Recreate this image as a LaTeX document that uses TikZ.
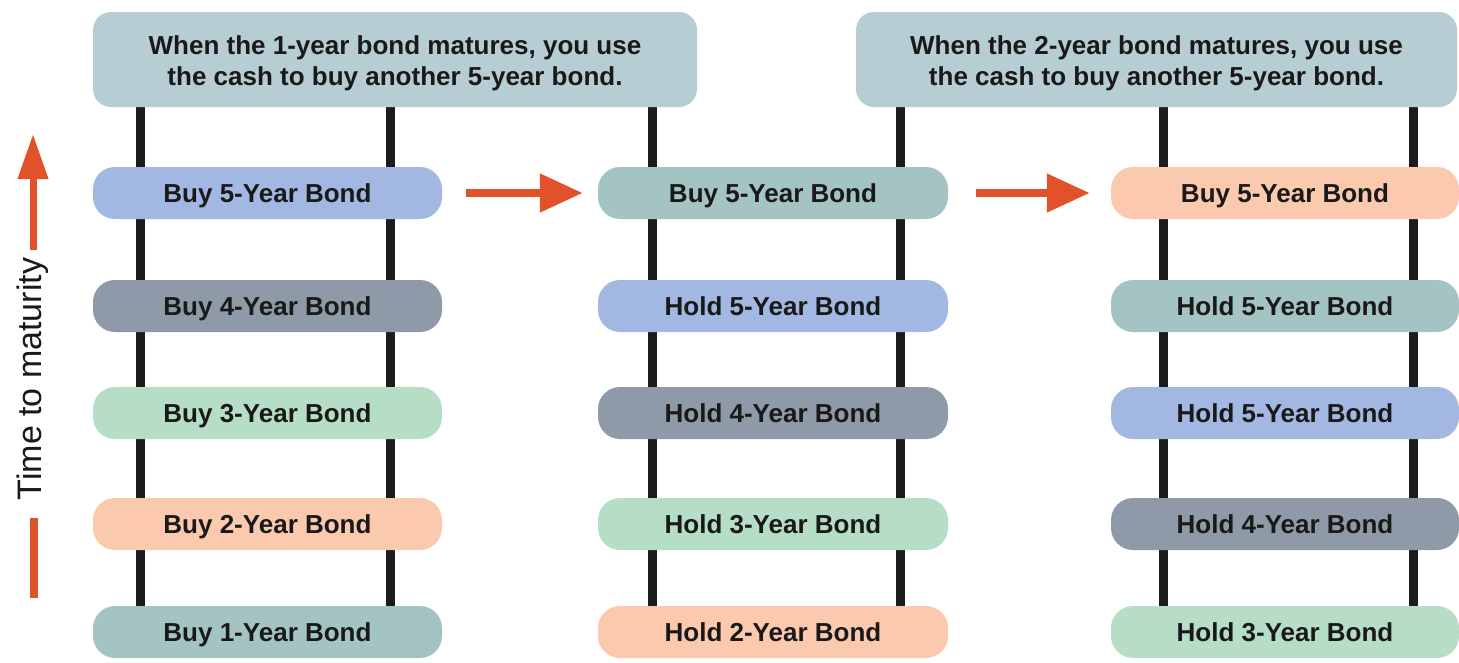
\documentclass[tikz,border=0pt]{standalone}
\usepackage{fontspec}
\setmainfont{Liberation Sans}
\usetikzlibrary{arrows.meta,backgrounds}
\definecolor{topbox}{HTML}{B7CDD4}
\definecolor{pblue}{HTML}{A2B8E2}
\definecolor{pgray}{HTML}{8E9AA7}
\definecolor{pgreen}{HTML}{B6DEC6}
\definecolor{ppeach}{HTML}{FBCAAE}
\definecolor{pteal}{HTML}{A4C3C3}
\definecolor{arrowred}{HTML}{E1522B}
\definecolor{railblack}{HTML}{1C1C1C}
\begin{document}
\begin{tikzpicture}[x=1pt,y=-1pt,
  topnote/.style={rounded corners=18pt,minimum height=95pt,inner sep=0pt,align=center,
    font=\fontsize{26}{31}\selectfont\bfseries,text=black!90,fill=topbox},
  pill/.style={rounded corners=22pt,minimum height=52pt,inner sep=0pt,
    text height=18.6pt,text depth=0pt,
    font=\fontsize{26}{31}\selectfont\bfseries,text=black!90},
  rail/.style={line width=9pt,draw=railblack},
  bigarrow/.style={line width=8pt,draw=arrowred,-{Triangle[length=43pt,width=37pt]}},
  axisarrow/.style={line width=7pt,draw=arrowred,-{Triangle[length=45pt,width=29pt]}},
  axisbar/.style={line width=8pt,draw=arrowred}]
\useasboundingbox (0,0) rectangle (1459,662);
% top notes
\node[topnote,minimum width=604pt] (top1) at (395,59.5) {\rule{0pt}{26pt}When the 1-year bond matures, you use\\the cash to buy another 5-year bond.};
\node[topnote,minimum width=601pt] (top2) at (1156.5,59.5) {\rule{0pt}{26pt}When the 2-year bond matures, you use\\the cash to buy another 5-year bond.};
% column 1
\node[pill,fill=pblue,minimum width=349pt]  (c1r1) at (267.5,193) {Buy 5-Year Bond};
\node[pill,fill=pgray,minimum width=349pt]  (c1r2) at (267.5,306) {Buy 4-Year Bond};
\node[pill,fill=pgreen,minimum width=349pt] (c1r3) at (267.5,413) {Buy 3-Year Bond};
\node[pill,fill=ppeach,minimum width=349pt] (c1r4) at (267.5,524) {Buy 2-Year Bond};
\node[pill,fill=pteal,minimum width=349pt]  (c1r5) at (267.5,632) {Buy 1-Year Bond};
% column 2
\node[pill,fill=pteal,minimum width=350pt]  (c2r1) at (773,193) {Buy 5-Year Bond};
\node[pill,fill=pblue,minimum width=350pt]  (c2r2) at (773,306) {Hold 5-Year Bond};
\node[pill,fill=pgray,minimum width=350pt]  (c2r3) at (773,413) {Hold 4-Year Bond};
\node[pill,fill=pgreen,minimum width=350pt] (c2r4) at (773,524) {Hold 3-Year Bond};
\node[pill,fill=ppeach,minimum width=350pt] (c2r5) at (773,632) {Hold 2-Year Bond};
% column 3
\node[pill,fill=ppeach,minimum width=348pt] (c3r1) at (1285,193) {Buy 5-Year Bond};
\node[pill,fill=pteal,minimum width=348pt]  (c3r2) at (1285,306) {Hold 5-Year Bond};
\node[pill,fill=pblue,minimum width=348pt]  (c3r3) at (1285,413) {Hold 5-Year Bond};
\node[pill,fill=pgray,minimum width=348pt]  (c3r4) at (1285,524) {Hold 4-Year Bond};
\node[pill,fill=pgreen,minimum width=348pt] (c3r5) at (1285,632) {Hold 3-Year Bond};
% rails
\begin{pgfonlayer}{background}
\draw[rail] (top1.south -| 140,0) -- (c1r5.north -| 140,0);
\draw[rail] (top1.south -| 390,0) -- (c1r5.north -| 390,0);
\draw[rail] (top1.south -| 652,0) -- (c2r5.north -| 652,0);
\draw[rail] (top2.south -| 900,0) -- (c2r5.north -| 900,0);
\draw[rail] (top2.south -| 1163,0) -- (c3r5.north -| 1163,0);
\draw[rail] (top2.south -| 1413,0) -- (c3r5.north -| 1413,0);
\end{pgfonlayer}
% arrows between columns
\draw[bigarrow] ([xshift=24pt]c1r1.east) -- ([xshift=-15pt]c2r1.west);
\draw[bigarrow] ([xshift=28pt]c2r1.east) -- ([xshift=-21pt]c3r1.west);
% time axis
\coordinate (axbot) at (33,250);
\coordinate (axtop) at (33,134);
\draw[axisarrow] (axbot) -- (axtop);
\node[rotate=90,inner sep=0pt,font=\fontsize{34}{40}\selectfont,text=black!90] (axlabel) at (33,379) {Time to maturity};
\coordinate (barTop) at (34,518);
\coordinate (barBot) at (34,598);
\draw[axisbar] (barTop) -- (barBot);
\end{tikzpicture}
\end{document}
